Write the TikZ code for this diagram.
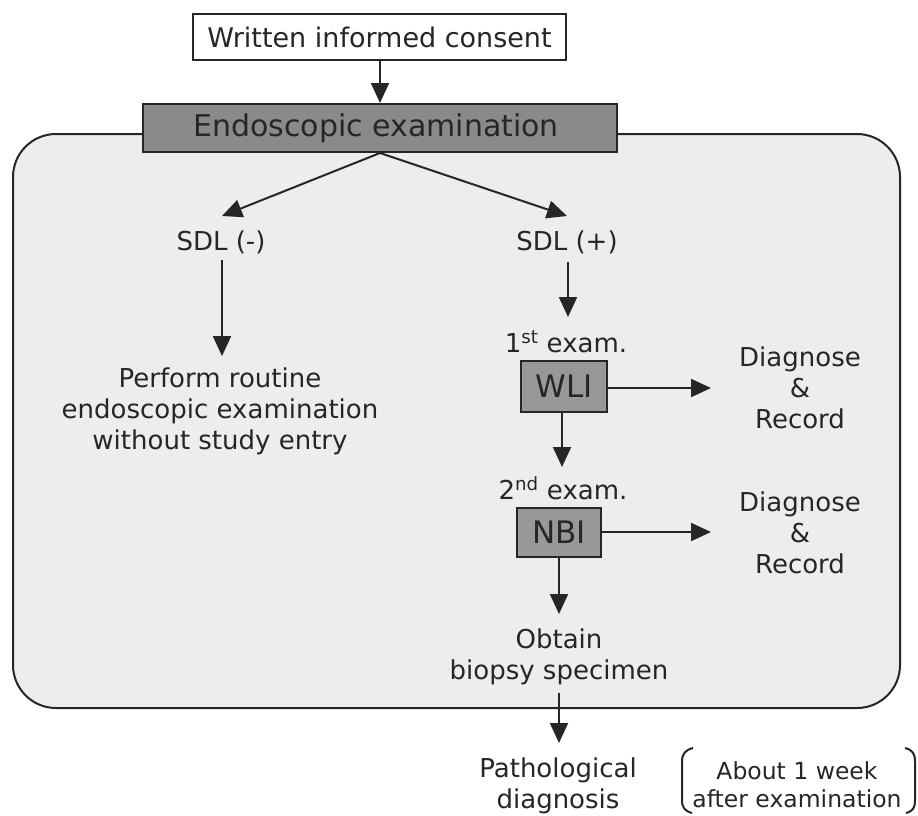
\documentclass[tikz,border=0pt]{standalone}
\usepackage{fontspec}
\setmainfont{DejaVu Sans}
\usetikzlibrary{arrows.meta}
\definecolor{panel}{HTML}{EDEDED}
\definecolor{darkbox}{HTML}{8A8A8A}
\definecolor{midbox}{HTML}{989898}
\definecolor{ink}{HTML}{262626}
\begin{document}
\begin{tikzpicture}[x=1pt,y=-1pt,
  arr/.style={-{Triangle[length=20pt,width=18pt]},line width=2pt,draw=ink},
  body/.style={font=\fontsize{26}{31}\selectfont,text=ink,align=center,inner sep=0pt},
  gbox/.style={draw=ink,line width=2pt,fill=midbox,font=\fontsize{31}{34}\selectfont,text=ink,inner sep=0pt}
]
\useasboundingbox (0,0) rectangle (918,815);
% panel
\draw[line width=2pt,draw=ink,fill=panel,rounded corners=43pt] (13,134) rectangle (900,708);
% top boxes
\node[draw=ink,line width=2pt,fill=white,minimum width=373pt,minimum height=46pt,inner sep=0pt,text=ink,font=\fontsize{27}{30}\selectfont] (consent) at (379.5,37) {Written informed consent};
\node[draw=ink,line width=2pt,fill=darkbox,minimum width=474pt,minimum height=48pt,inner sep=0pt,text=ink,font=\fontsize{30}{32}\selectfont] (endo) at (380,128) {\hspace*{-8pt}Endoscopic examination};
\draw[arr] (consent.south -| endo.north) -- (endo.north);
% SDL
\node[body] (sdlm) at (221,242) {SDL (-)};
\node[body] (sdlp) at (567,242) {SDL (+)};
\coordinate (sdlmin) at (222,216);
\coordinate (sdlpin) at (567,216);
\draw[arr] (endo.south) -- (sdlmin);
\draw[arr] (endo.south) -- (sdlpin);
% left branch
\node[body] (routine) at (220,411) {Perform routine\\endoscopic examination\\without study entry};
\coordinate (routinein) at (222,356);
\draw[arr] (222,260) -- (routinein);
% right branch
\coordinate (ex1in) at (568,317);
\draw[arr] (568,262) -- (ex1in);
\node[body] (ex1) at (566,342) {1\textsuperscript{st} exam.};
\node[gbox,minimum width=86pt,minimum height=51pt] (wli) at (564,386.5) {WLI};
\node[body] (dr1) at (800,388) {Diagnose\\\&\\Record};
\coordinate (dr1in) at (711,388);
\draw[arr] (wli.east |- dr1in) -- (dr1in);
\coordinate (ex2in) at (562,467);
\draw[arr] (wli.south -| ex2in) -- (ex2in);
\node[body] (ex2) at (563,488) {2\textsuperscript{nd} exam.};
\node[gbox,minimum width=84pt,minimum height=49pt] (nbi) at (559,532.5) {NBI};
\node[body] (dr2) at (800,533) {Diagnose\\\&\\Record};
\coordinate (dr2in) at (711,532);
\draw[arr] (nbi.east |- dr2in) -- (dr2in);
\coordinate (biopsyin) at (559,614);
\draw[arr] (nbi.south -| biopsyin) -- (biopsyin);
\node[body] (biopsy) at (559,657) {Obtain\\biopsy specimen};
\coordinate (pathoin) at (559,743);
\draw[arr] (559,693) -- (pathoin);
\node[body] (patho) at (558,786) {Pathological\\diagnosis};
\node[body,font=\fontsize{23.5}{28}\selectfont] (week) at (797,785) {About 1 week\\after examination};
% brackets
\draw[line width=2pt,draw=ink] (693,748) .. controls (685,750) and (682,754) .. (682,762) -- (682,800) .. controls (682,808) and (685,811) .. (692,813);
\draw[line width=2pt,draw=ink] (905,748) .. controls (913,750) and (915,754) .. (915,762) -- (915,800) .. controls (915,808) and (913,811) .. (906,813);
\end{tikzpicture}
\end{document}
